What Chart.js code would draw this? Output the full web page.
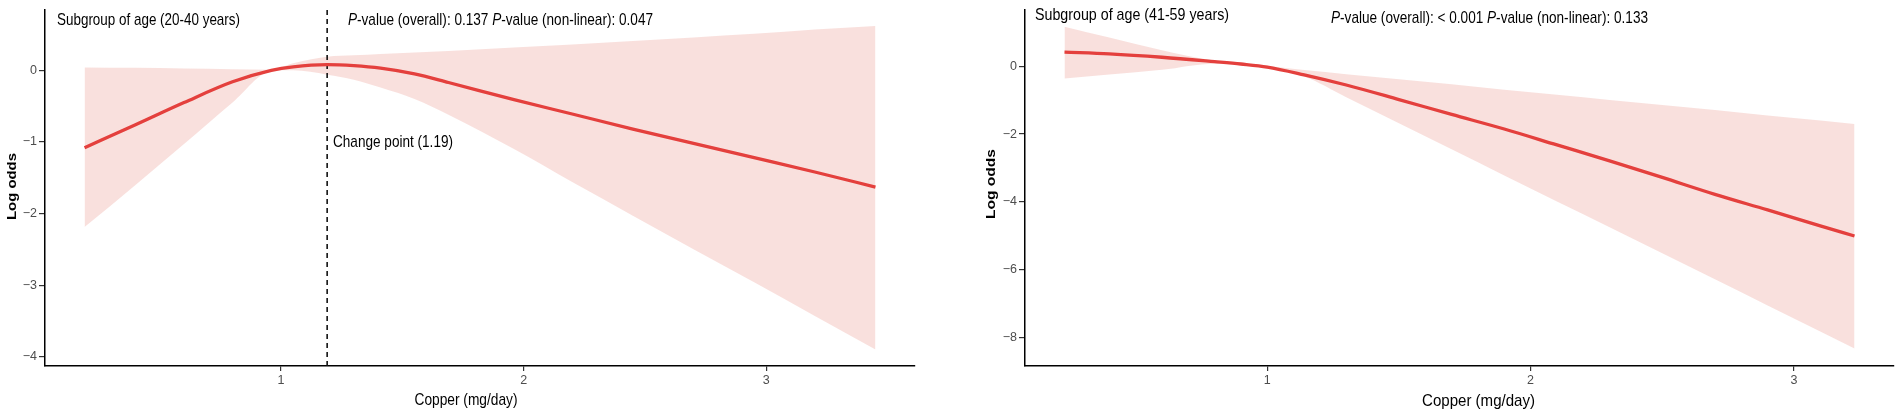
<!DOCTYPE html>
<html><head><meta charset="utf-8">
<script src="https://cdn.jsdelivr.net/npm/chart.js@4.4.1/dist/chart.umd.min.js"></script>
<style>
html,body{margin:0;padding:0;background:#fff;}
#wrap{position:relative;width:1902px;height:417px;overflow:hidden;}
canvas{position:absolute;top:0;}
#c1{left:0;}
#c2{left:951px;}
</style></head><body>
<div id="wrap"><canvas id="c1" width="951" height="417"></canvas><canvas id="c2" width="951" height="417"></canvas></div>
<script>
// ---------- DATA: left panel (age 20-40) ----------
const leftTitle = 'Subgroup of age (20-40 years)';
const leftPOverall = '0.137';
const leftPNonlinear = '0.047';
const leftChangePoint = 1.19;
const leftChangeLabel = 'Change point (1.19)';
const leftX     = [0.19, 0.4, 0.6, 0.8, 0.96, 1.05, 1.19, 1.3, 1.41, 1.55, 1.69, 1.96, 2.2, 2.45, 2.7, 2.95, 3.2, 3.45];
const leftFit   = [-1.08, -0.76, -0.45, -0.16, 0.0, 0.05, 0.08, 0.065, 0.03, -0.05, -0.17, -0.41, -0.61, -0.82, -1.02, -1.22, -1.42, -1.63];
const leftUpper = [0.04, 0.035, 0.025, 0.015, 0.01, 0.10, 0.19, 0.21, 0.23, 0.25, 0.27, 0.32, 0.36, 0.41, 0.46, 0.51, 0.57, 0.62];
const leftLower = [-2.19, -1.6, -1.03, -0.45, -0.01, 0.0, -0.06, -0.13, -0.24, -0.4, -0.62, -1.1, -1.56, -2.03, -2.5, -2.96, -3.43, -3.90];
const leftXTicks = [1, 2, 3];
const leftYTicks = [-4, -3, -2, -1, 0];
const leftXRange = [0.027, 3.613];
const leftYRange = [-4.13, 0.85];

// ---------- DATA: right panel (age 41-59) ----------
const rightTitle = 'Subgroup of age (41-59 years)';
const rightPOverall = '< 0.001';
const rightPNonlinear = '0.133';
const rightX     = [0.23, 0.4, 0.6, 0.8, 0.9, 1.0, 1.14, 1.3, 1.5, 1.7, 1.9, 2.1, 2.3, 2.5, 2.7, 2.9, 3.1, 3.23];
const rightFit   = [0.42, 0.37, 0.27, 0.14, 0.07, -0.02, -0.25, -0.55, -0.98, -1.42, -1.85, -2.32, -2.79, -3.28, -3.78, -4.24, -4.71, -5.01];
const rightUpper = [1.17, 0.85, 0.48, 0.17, 0.09, 0.02, -0.11, -0.23, -0.38, -0.53, -0.69, -0.84, -0.99, -1.14, -1.29, -1.45, -1.6, -1.70];
const rightLower = [-0.36, -0.24, -0.1, 0.08, 0.03, -0.06, -0.3, -0.91, -1.68, -2.45, -3.22, -3.99, -4.75, -5.52, -6.29, -7.06, -7.83, -8.33];
const rightXTicks = [1, 2, 3];
const rightYTicks = [-8, -6, -4, -2, 0];
const rightXRange = [0.08, 3.38];
const rightYRange = [-8.85, 1.68];

const xLabel = 'Copper (mg/day)';
const yLabel = 'Log odds';

const FAMILY = '"Liberation Sans", Arial, Helvetica, sans-serif';
Chart.defaults.font.family = FAMILY;
const TICK = 12.5;
const BAND = 'rgba(248, 218, 215, 0.85)';
const RED = '#E4403D';

function pts(xs, ys){ return xs.map((x, i) => ({x: x, y: ys[i]})); }
function fmt(v){ return v < 0 ? '\u2212' + Math.abs(v) : String(v); }

// draw text segments [text, italic] squeezed to a target width (narrow Helvetica look)
function drawFit(ctx, x, y, segs, o){
  const size = o.size || 16.4;
  const fontOf = it => (it ? 'italic ' : '') + (o.bold ? 'bold ' : '') + size + 'px ' + FAMILY;
  ctx.save();
  let W = 0;
  for (const [t, it] of segs){ ctx.font = fontOf(it); W += ctx.measureText(t).width; }
  const s = o.width / W;
  ctx.translate(x, y);
  if (o.rotate) ctx.rotate(-Math.PI / 2);
  ctx.scale(s, 1);
  ctx.textBaseline = o.baseline || 'alphabetic';
  ctx.textAlign = 'left';
  ctx.fillStyle = '#000';
  let cx = o.center ? -W / 2 : 0;
  for (const [t, it] of segs){
    ctx.font = fontOf(it);
    ctx.fillText(t, cx, 0);
    cx += ctx.measureText(t).width;
  }
  ctx.restore();
}

function pLine(overall, nonlin){
  return [['P', true], ['-value (overall): ' + overall + ' ', false], ['P', true], ['-value (non-linear): ' + nonlin, false]];
}

function makeChart(id, cfg){
  const textPlugin = { id: 'texts', afterDraw(chart){ cfg.texts(chart.ctx); } };
  const datasets = [
    {data: pts(cfg.x, cfg.upper), fill: '+1', backgroundColor: BAND, borderWidth: 0, pointRadius: 0, cubicInterpolationMode: 'monotone'},
    {data: pts(cfg.x, cfg.lower), fill: false, borderWidth: 0, pointRadius: 0, cubicInterpolationMode: 'monotone'},
    {data: pts(cfg.x, cfg.fit), fill: false, borderColor: RED, borderWidth: 3.3, pointRadius: 0, cubicInterpolationMode: 'monotone', order: -1}
  ];
  if (cfg.changePoint !== undefined){
    datasets.push({data: [{x: cfg.changePoint, y: cfg.yRange[0]}, {x: cfg.changePoint, y: cfg.yRange[1]}],
      borderColor: '#111', borderWidth: 1.6, borderDash: [5, 4], pointRadius: 0, fill: false, order: 0});
  }
  return new Chart(document.getElementById(id), {
    type: 'line',
    data: {datasets},
    options: {
      responsive: false, animation: false, devicePixelRatio: 1,
      layout: {padding: {left: 0, right: cfg.padRight, top: 8, bottom: 0}},
      plugins: {legend: {display: false}, tooltip: {enabled: false}, filler: {drawTime: 'beforeDatasetsDraw'}},
      scales: {
        x: {
          type: 'linear', min: cfg.xRange[0], max: cfg.xRange[1],
          afterBuildTicks: s => { s.ticks = cfg.xTicks.map(v => ({value: v})); },
          afterFit: s => { s.height = 51; },
          ticks: {font: {size: TICK}, color: '#4d4d4d', padding: 2, maxRotation: 0, callback: v => fmt(v)},
          grid: {drawOnChartArea: false, drawTicks: true, tickLength: 5, color: '#333', lineWidth: 1.2},
          border: {display: true, color: '#000', width: 1.5},
          title: {display: false, text: xLabel}
        },
        y: {
          type: 'linear', min: cfg.yRange[0], max: cfg.yRange[1],
          afterBuildTicks: s => { s.ticks = cfg.yTicks.map(v => ({value: v})); },
          afterFit: s => { s.width = cfg.yWidth; },
          ticks: {font: {size: TICK}, color: '#4d4d4d', padding: 2, callback: v => fmt(v)},
          grid: {drawOnChartArea: false, drawTicks: true, tickLength: 6, color: '#333', lineWidth: 1.2},
          border: {display: true, color: '#000', width: 1.5},
          title: {display: false, text: yLabel}
        }
      }
    },
    plugins: [textPlugin]
  });
}

makeChart('c1', {
  x: leftX, fit: leftFit, upper: leftUpper, lower: leftLower,
  xTicks: leftXTicks, yTicks: leftYTicks, xRange: leftXRange, yRange: leftYRange,
  changePoint: leftChangePoint, padRight: 36, yWidth: 45,
  texts: ctx => {
    drawFit(ctx, 57, 25, [[leftTitle, false]], {width: 183});
    drawFit(ctx, 348, 25, pLine(leftPOverall, leftPNonlinear), {width: 305});
    drawFit(ctx, 333, 147, [[leftChangeLabel, false]], {width: 120});
    drawFit(ctx, 466, 405, [[xLabel, false]], {width: 103, center: true});
    drawFit(ctx, 12.5, 186.5, [[yLabel, false]], {width: 67, size: 12.5, bold: true, center: true, rotate: true, baseline: 'middle'});
  }
});

makeChart('c2', {
  x: rightX, fit: rightFit, upper: rightUpper, lower: rightLower,
  xTicks: rightXTicks, yTicks: rightYTicks, xRange: rightXRange, yRange: rightYRange,
  padRight: 8, yWidth: 74,
  texts: ctx => {
    drawFit(ctx, 84, 20, [[rightTitle, false]], {width: 194});
    drawFit(ctx, 380, 23, pLine(rightPOverall, rightPNonlinear), {width: 317});
    drawFit(ctx, 527.5, 406, [[xLabel, false]], {width: 113, center: true});
    drawFit(ctx, 41, 184, [[yLabel, false]], {width: 70, size: 12.5, bold: true, center: true, rotate: true, baseline: 'middle'});
  }
});
</script>
</body></html>
